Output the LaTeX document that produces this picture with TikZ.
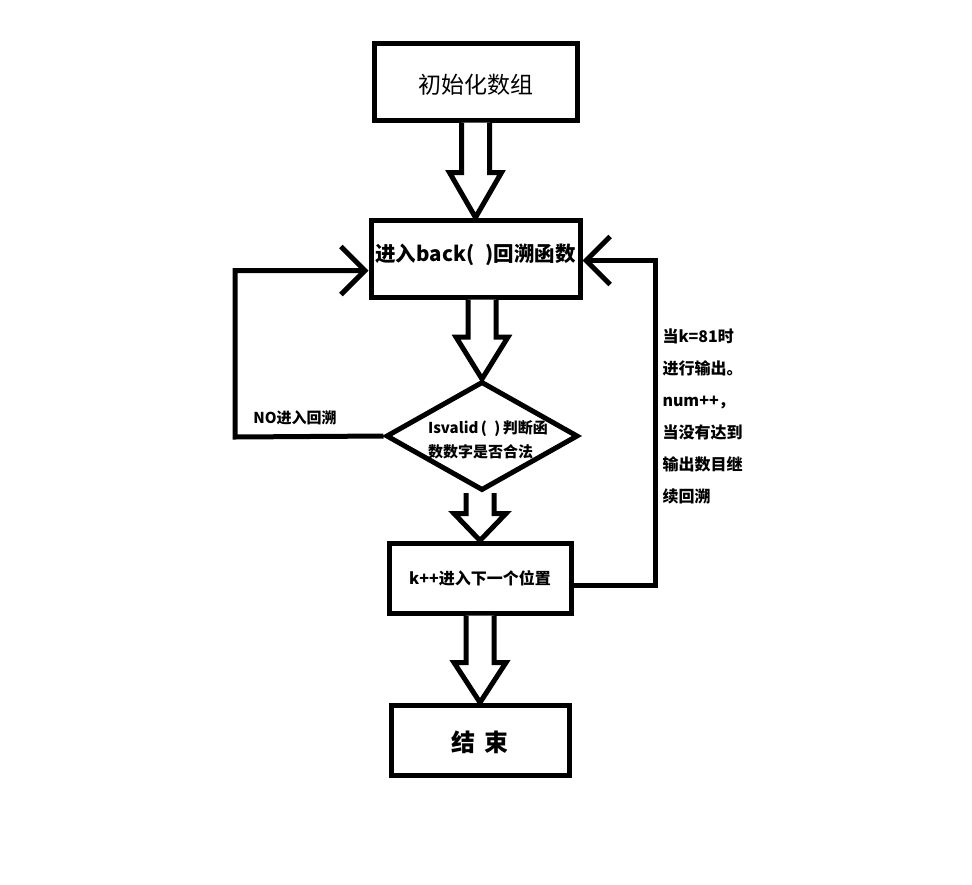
\documentclass[tikz,border=0pt]{standalone}
\usepackage{fontspec}
\setmainfont{Noto Sans CJK SC}
\usetikzlibrary{positioning,shapes.geometric,arrows.meta,calc}

\begin{document}
\begin{tikzpicture}[x=1pt,y=-1pt,line width=5pt,
  box/.style={draw,rectangle,inner sep=0pt},
  hollow/.style={draw,fill=white},
  back edge/.style={draw,-{Straight Barb[length=24pt,width=48pt]}},
  big/.style={font=\fontsize{23}{26}\selectfont},
  mid/.style={font=\bfseries\fontsize{20.5}{24}\selectfont},
  small/.style={font=\bfseries\fontsize{15}{24}\selectfont}]
  \useasboundingbox (0,0) rectangle (972,884);
  %\draw[help lines,step=50] (0,0) grid (972,884);

  \node[box,big,text height=25pt,minimum width=203,minimum height=77] (init) at (475.5,81.5) {初始化数组};
  \node[box,mid,text depth=12pt,minimum width=209,minimum height=77] (back) at (475.5,258.5) {进入back(\hspace{0.55em})回溯函数};
  \node[draw,diamond,inner sep=0pt,minimum width=192,minimum height=109] (chk) at (482,436) {};
  \node[small,align=left] (chktext) at (488,440) {Isvalid\,(\hspace{0.5em})\,判断函\\数数字是否合法};
  \node[box,font=\bfseries\fontsize{16}{20}\selectfont,minimum width=182,minimum height=70] (inc) at (480,578) {k++进入下一个位置};
  \node[box,font=\bfseries\fontsize{24}{28}\selectfont,text height=26pt,minimum width=178,minimum height=70] (fin) at (480,740) {结\hspace{0.4em}束};

  % hollow block arrows
  \foreach \s/\t/\l in {init/back/45, back/chk/42, chk/inc/27, inc/fin/40}
    \draw[hollow] let \p1=(\s.south), \p2=(\t.north) in
      (\x2-14,\y1) -- (\x2-14,\y2+\l) -- (\x2-26,\y2+\l) -- (\p2)
      -- (\x2+26,\y2+\l) -- (\x2+14,\y2+\l) -- (\x2+14,\y1);

  % loops back
  \coordinate (nl) at (235,437);
  \draw[back edge] (chk.west) -- (nl) |- ([yshift=-12pt]back.west);
  \node[font=\bfseries\fontsize{15}{18}\selectfont] (no) at (295,418) {NO进入回溯};

  \coordinate (nr) at (655,585);
  \draw[back edge] ([yshift=-7pt]inc.east) -- (nr) |- ([yshift=-2pt]back.east);
  \node[anchor=north west,inner sep=0pt,align=left,font=\bfseries\fontsize{16}{32}\selectfont] (note) at (660,326)
    {当k=81时\\进行输出。\\num++，\\当没有达到\\输出数目继\\续回溯};
\end{tikzpicture}
\end{document}
